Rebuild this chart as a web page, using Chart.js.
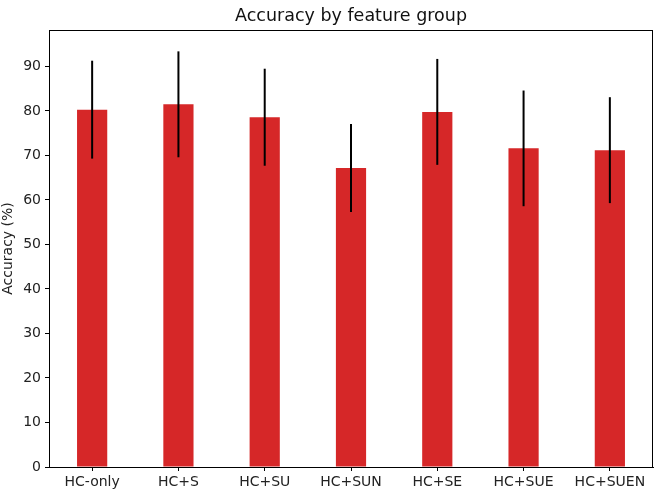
<!DOCTYPE html>
<html>
<head>
<meta charset="utf-8">
<script src="https://cdn.jsdelivr.net/npm/chart.js@4/dist/chart.umd.min.js"></script>
<style>
  html, body { margin: 0; padding: 0; background: #fff; }
  #wrap { width: 654px; height: 492px; }
</style>
</head>
<body>
<div id="wrap"><canvas id="grafico" width="654" height="492"></canvas></div>
<script>
let grupos = ["HC-only", "HC+S", "HC+SU", "HC+SUN", "HC+SE", "HC+SUE", "HC+SUEN"];
let acuracia = [80.3, 81.5, 78.6, 67.2, 79.8, 71.6, 71.2];
let erros = [11.0, 11.9, 10.9, 9.9, 11.9, 13.0, 11.9];
let ticksY = [0, 10, 20, 30, 40, 50, 60, 70, 80, 90];

const fonte = "'DejaVu Sans', sans-serif";

// barras de erro e moldura
const extras = {
  id: "extras",
  afterDatasetsDraw(chart) {
    const ctx = chart.ctx;
    const y = chart.scales.y;
    const meta = chart.getDatasetMeta(0);
    ctx.save();
    ctx.strokeStyle = "#000";
    ctx.lineWidth = 2;
    meta.data.forEach((bar, i) => {
      ctx.beginPath();
      ctx.moveTo(bar.x, y.getPixelForValue(acuracia[i] + erros[i]));
      ctx.lineTo(bar.x, y.getPixelForValue(acuracia[i] - erros[i]));
      ctx.stroke();
    });
    const a = chart.chartArea;
    ctx.lineWidth = 1;
    ctx.strokeStyle = "#000";
    ctx.strokeRect(a.left + 0.5, a.top + 0.5, a.right - a.left - 1, a.bottom - a.top);
    ctx.restore();
  }
};

new Chart(document.getElementById("grafico"), {
  type: "bar",
  data: {
    labels: grupos,
    datasets: [{
      data: acuracia,
      backgroundColor: "#d62728",
      barPercentage: 0.35,
      categoryPercentage: 1
    }]
  },
  options: {
    responsive: false,
    animation: false,
    layout: { padding: { left: 0, right: 1, top: 0, bottom: 0 } },
    plugins: {
      legend: { display: false },
      tooltip: { enabled: false },
      title: {
        display: true,
        fullSize: false,
        text: "Accuracy by feature group",
        color: "#111",
        font: { family: fonte, size: 17.5, weight: "normal" },
        padding: { top: 6, bottom: 3 }
      }
    },
    scales: {
      x: {
        grid: { offset: false, drawOnChartArea: false, drawTicks: true, tickLength: 4, color: "#000" },
        border: { display: true, color: "#000" },
        ticks: { color: "#222", font: { family: fonte, size: 14 }, padding: 3, maxRotation: 0 },
        afterFit(s) { s.height = 25; }
      },
      y: {
        min: 0,
        max: 98.2,
        grid: { drawOnChartArea: false, drawTicks: true, tickLength: 4, color: "#000" },
        border: { display: true, color: "#000" },
        ticks: { stepSize: 10, color: "#222", font: { family: fonte, size: 14 }, padding: 4 },
        afterBuildTicks(s) {
          s.ticks = ticksY.map(v => ({ value: v }));
        },
        title: {
          display: true,
          text: "Accuracy (%)",
          color: "#222",
          font: { family: fonte, size: 14 },
          padding: { top: 0, bottom: 0 }
        },
        afterFit(s) { s.width = 49; }
      }
    }
  },
  plugins: [extras]
});
</script>
</body>
</html>
